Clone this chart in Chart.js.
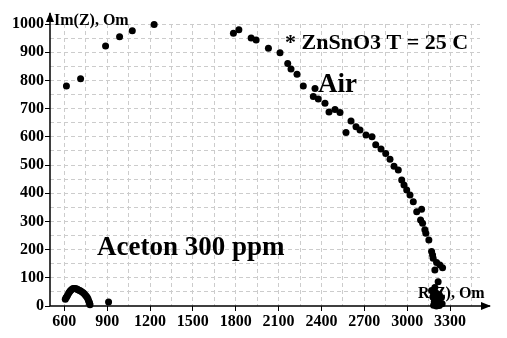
<!DOCTYPE html>
<html>
<head>
<meta charset="utf-8">
<script src="https://cdn.jsdelivr.net/npm/chart.js@4"></script>
<style>
  html, body { margin: 0; padding: 0; background: #fff; }
  #wrap { width: 507px; height: 338px; }
</style>
</head>
<body>
<div id="wrap"><canvas id="chart" width="507" height="338"></canvas></div>
<script>
// Air curve, R(Z) and Im(Z) in Om
const airR = [615, 714, 889, 987, 1076, 1229, 1784, 1822, 1908, 1943, 2029, 2110, 2164, 2187, 2229, 2273,
  2355, 2343, 2378, 2425, 2453, 2495, 2530, 2572, 2607, 2642, 2670, 2712, 2754, 2780, 2817, 2850, 2880,
  2908, 2938, 2962, 2978, 2997, 3020, 3043, 3067, 3101, 3094, 3108, 3124, 3131, 3152, 3171, 3178, 3182,
  3206, 3229, 3248, 3194, 3217, 3194, 3171, 3185, 3205, 3225, 3180, 3200, 3220, 3240, 3190, 3210, 3230,
  3185, 3205, 3225, 3245];
const airIm = [780, 806, 922, 955, 976, 998, 967, 980, 950, 943, 914, 898, 860, 840, 822, 780,
  771, 743, 734, 719, 688, 697, 686, 615, 656, 636, 624, 606, 600, 572, 557, 541, 520,
  496, 482, 447, 429, 411, 394, 370, 334, 343, 305, 293, 270, 258, 234, 193, 181, 169,
  154, 145, 136, 128, 86, 66, 55, 48, 45, 40, 32, 28, 25, 30, 15, 12, 10,
  3, 0, 2, 8];

// Aceton 300 ppm
const acetonR = [607, 612, 617, 623, 630, 636, 642, 650, 658, 665, 673, 681, 688, 696, 704, 712, 720,
  730, 738, 747, 754, 761, 766, 770, 774, 777, 780, 910];
const acetonIm = [24, 29, 33, 38, 45, 50, 54, 58, 61, 62, 62, 61, 60, 58, 56, 54, 51,
  48, 44, 39, 35, 30, 25, 19, 14, 10, 4, 14];

const xTickLabels = [600, 900, 1200, 1500, 1800, 2100, 2400, 2700, 3000, 3300];
const yTickLabels = [0, 100, 200, 300, 400, 500, 600, 700, 800, 900, 1000];
const xGridStep = 150, yGridStep = 50;

const serif = '"Liberation Serif", "Times New Roman", serif';

function toPoints(xs, ys) {
  return xs.map((x, i) => ({ x: x, y: ys[i] }));
}

function gridValues(from, to, step) {
  const out = [];
  for (let v = from; v <= to; v += step) out.push({ value: v });
  return out;
}

// axes with arrows + text labels
const decor = {
  id: 'decor',
  beforeDatasetsDraw(chart) {
    const ctx = chart.ctx;
    const y = chart.scales.y;
    const x0 = chart.chartArea.left, y0 = y.getPixelForValue(0);
    const xEnd = chart.chartArea.right + 10, yEnd = chart.chartArea.top - 11;
    ctx.save();
    ctx.strokeStyle = '#000';
    ctx.fillStyle = '#000';
    ctx.lineWidth = 1.5;
    ctx.beginPath();
    ctx.moveTo(x0, y0); ctx.lineTo(xEnd, y0);
    ctx.moveTo(x0, y0); ctx.lineTo(x0, yEnd);
    ctx.stroke();
    ctx.beginPath();
    ctx.moveTo(xEnd + 1, y0); ctx.lineTo(xEnd - 9, y0 - 4); ctx.lineTo(xEnd - 9, y0 + 4); ctx.closePath();
    ctx.fill();
    ctx.beginPath();
    ctx.moveTo(x0, yEnd - 1); ctx.lineTo(x0 - 4, yEnd + 9); ctx.lineTo(x0 + 4, yEnd + 9); ctx.closePath();
    ctx.fill();

    ctx.textBaseline = 'alphabetic';
    ctx.textAlign = 'left';
    ctx.font = 'bold 16px ' + serif;
    ctx.fillText('Im(Z), Om', x0 + 4, 25);
    ctx.fillText('R(Z), Om', 418, 298);
    ctx.font = 'bold 22px ' + serif;
    ctx.fillText('* ZnSnO3 T = 25 C', 285, 49);
    ctx.font = 'bold 27px ' + serif;
    ctx.fillText('Air', 318, 92);
    ctx.fillText('Aceton 300 ppm', 97, 255);
    ctx.restore();
  }
};

new Chart(document.getElementById('chart'), {
  type: 'scatter',
  data: {
    datasets: [
      {
        label: 'Air',
        data: toPoints(airR, airIm),
        backgroundColor: '#000',
        borderWidth: 0,
        pointRadius: 3.5,
        clip: false,
      },
      {
        label: 'Aceton 300 ppm',
        data: toPoints(acetonR, acetonIm),
        backgroundColor: '#000',
        borderWidth: 0,
        pointRadius: 3.5,
        clip: false,
      },
    ],
  },
  options: {
    responsive: false,
    animation: false,
    events: [],
    layout: { padding: { top: 24, right: 27, left: 0, bottom: 0 } },
    plugins: { legend: { display: false }, tooltip: { enabled: false } },
    scales: {
      x: {
        type: 'linear',
        min: 500,
        max: 3510,
        afterBuildTicks: (axis) => { axis.ticks = gridValues(600, 3450, xGridStep); },
        afterFit: (axis) => { axis.height = 32; },
        ticks: {
          autoSkip: false,
          maxRotation: 0,
          padding: 1,
          color: '#000',
          font: { family: serif, size: 16, weight: 'bold' },
          callback: (v) => (xTickLabels.includes(v) ? String(v) : ''),
        },
        grid: {
          color: '#cccccc',
          lineWidth: 1,
          tickLength: 5,
          tickColor: (c) => (xTickLabels.includes(c.tick.value) ? '#000' : 'rgba(0,0,0,0)'),
        },
        border: { display: false, dash: [4, 3] },
      },
      y: {
        type: 'linear',
        min: 0,
        max: 1000,
        afterBuildTicks: (axis) => { axis.ticks = gridValues(0, 1000, yGridStep); },
        afterFit: (axis) => { axis.width = 50; },
        ticks: {
          autoSkip: false,
          padding: 1,
          color: '#000',
          font: { family: serif, size: 16, weight: 'bold' },
          callback: (v) => (yTickLabels.includes(v) ? String(v) : ''),
        },
        grid: {
          color: (c) => (c.tick.value === 0 ? 'rgba(0,0,0,0)' : '#cccccc'),
          lineWidth: 1,
          tickLength: 5,
          tickColor: (c) => (yTickLabels.includes(c.tick.value) ? '#000' : 'rgba(0,0,0,0)'),
        },
        border: { display: false, dash: [4, 3] },
      },
    },
  },
  plugins: [decor],
});
</script>
</body>
</html>
